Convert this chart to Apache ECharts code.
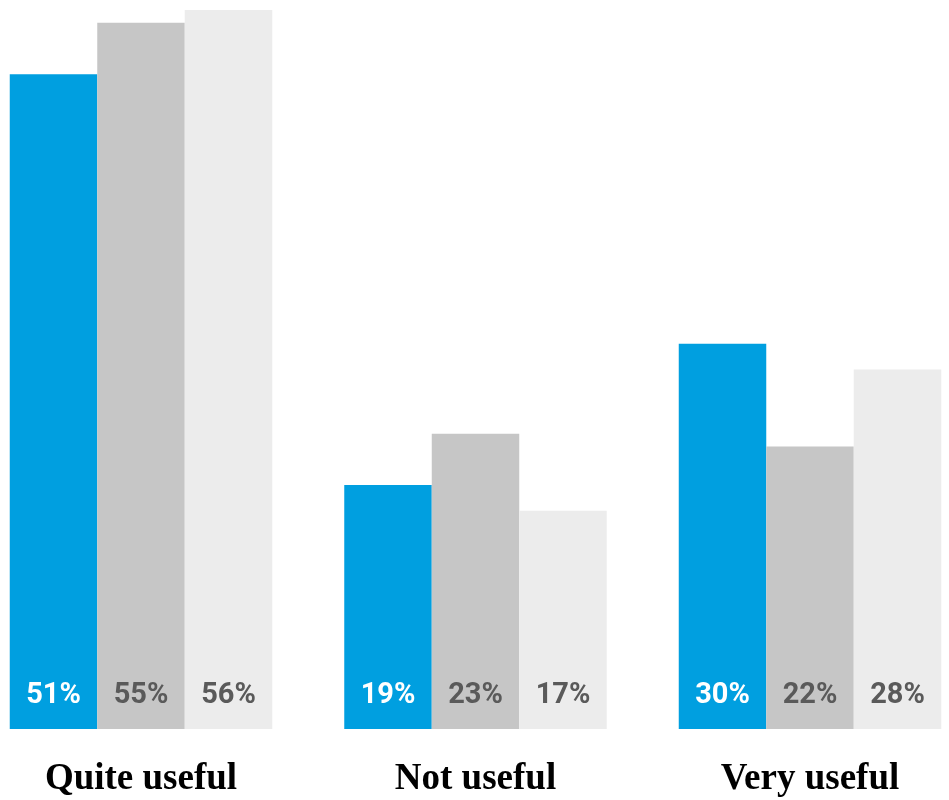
<!DOCTYPE html>
<html>
<head>
<meta charset="utf-8">
<script src="https://cdn.jsdelivr.net/npm/echarts@6/dist/echarts.min.js"></script>
<style>
  html, body { margin: 0; padding: 0; background: #ffffff; }
  #chart { width: 949px; height: 800px; }
</style>
</head>
<body>
<div id="chart"></div>
<script>
// Survey answers, three respondent groups per category
const categories = ['Quite useful', 'Not useful', 'Very useful'];
const seriesA = [51, 19, 30];
const seriesB = [55, 23, 22];
const seriesC = [56, 17, 28];

const barColors = ['#009fe0', '#c6c6c6', '#ececec'];
const labelColors = ['#ffffff', '#5a5a5a', '#5a5a5a'];

function makeSeries(name, values, i) {
  return {
    name: name,
    type: 'bar',
    data: values,
    barWidth: 87.5,
    barGap: '0%',
    clip: false,
    itemStyle: { color: barColors[i] },
    label: {
      show: true,
      position: 'insideBottom',
      distance: 19,
      formatter: '{c}%',
      color: labelColors[i],
      fontFamily: 'Roboto',
      fontWeight: 'bold',
      fontSize: 29
    }
  };
}

const chart = echarts.init(document.getElementById('chart'), null, { renderer: 'canvas' });
chart.setOption({
  animation: false,
  backgroundColor: '#ffffff',
  // category points sit on the grid edges and centre, so each group is centred on one
  grid: { left: 141, right: 139, top: 10, bottom: 71, containLabel: false },
  xAxis: {
    type: 'category',
    data: categories,
    boundaryGap: false,
    axisLine: { show: false },
    axisTick: { show: false },
    splitLine: { show: false },
    axisLabel: {
      margin: 32,
      color: '#000000',
      fontFamily: 'Liberation Serif',
      fontWeight: 'bold',
      fontSize: 37
    }
  },
  yAxis: {
    type: 'value',
    min: 0,
    max: 56,
    show: false,
    splitLine: { show: false }
  },
  series: [
    makeSeries('A', seriesA, 0),
    makeSeries('B', seriesB, 1),
    makeSeries('C', seriesC, 2)
  ]
});
</script>
</body>
</html>
